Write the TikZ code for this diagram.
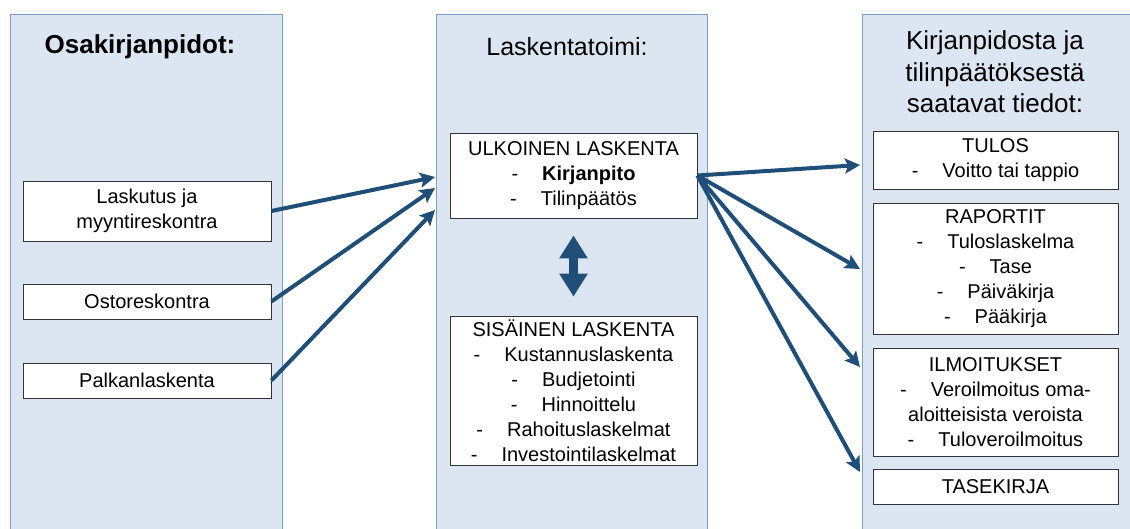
\documentclass[tikz,border=0pt]{standalone}
\usepackage{fontspec}
\setmainfont{Liberation Sans}
\usepackage{xcolor}
\usepackage{tikz}
\usetikzlibrary{arrows.meta}
\definecolor{panelfill}{HTML}{DCE6F2}
\definecolor{panelline}{HTML}{7F9DC9}
\definecolor{arrowblue}{HTML}{1F4E79}
\newcommand{\kohta}[1]{-\hspace{24pt}#1}
\tikzset{
  panel/.style   = { draw=panelline, fill=panelfill, line width=1pt, inner sep=0pt, minimum width=#1, minimum height=530pt },
  title/.style   = { align=center, font=\fontsize{25}{31.5}\selectfont },
  box/.style     = { draw=black!80, fill=white, line width=0.8pt, inner sep=0pt, align=center, font=\fontsize{20}{25}\selectfont },
  flow/.style    = { line width=4pt, arrowblue, -{Stealth[length=15pt,width=15pt,inset=3pt]} },
  updown/.style  = { line width=9pt, arrowblue, {Triangle[length=23pt,width=27pt]}-{Triangle[length=23pt,width=27pt]} }
}

\begin{document}
\begin{tikzpicture}[x=1pt,y=-1pt]
\useasboundingbox (0,0) rectangle (1130,528);
\node[panel=272pt] (osapanel) at (146,279) {};
\node[panel=271pt] (laskpanel) at (571.5,279) {};
\node[panel=280pt] (tietopanel) at (1002,279) {};
\node[title, font=\fontsize{26}{31.5}\selectfont\bfseries] (osatitle) at (140,47) {Osakirjanpidot:};
\node[title] (lasktitle) at (567,47) {Laskentatoimi:};
\node[title, font=\fontsize{26}{31.5}\selectfont] (tietotitle) at (995,72) {Kirjanpidosta ja\\tilinpäätöksestä\\saatavat tiedot:};
\node[box, minimum width=248pt, minimum height=60pt] (laskutus) at (147,211) {Laskutus ja\\myyntireskontra};
\node[box, minimum width=248pt, minimum height=35pt] (ostot) at (147,301.5) {Ostoreskontra};
\node[box, minimum width=248pt, minimum height=35pt] (palkat) at (147,380.5) {Palkanlaskenta};
\node[box, minimum width=247pt, minimum height=85pt] (ulkoinen) at (573.5,175.5) {ULKOINEN LASKENTA\\\kohta{\textbf{Kirjanpito}}\\\kohta{Tilinpäätös}};
\node[box, minimum width=247pt, minimum height=149pt] (sisainen) at (573.5,390.5) {SISÄINEN LASKENTA\\\kohta{Kustannuslaskenta}\\\kohta{Budjetointi}\\\kohta{Hinnoittelu}\\\kohta{Rahoituslaskelmat}\\\kohta{Investointilaskelmat}};
\node[box, minimum width=245pt, minimum height=58pt] (tulos) at (995.5,160) {TULOS\\\kohta{Voitto tai tappio}};
\node[box, minimum width=245pt, minimum height=131pt] (raportit) at (995.5,268.5) {RAPORTIT\\\kohta{Tuloslaskelma}\\\kohta{Tase}\\\kohta{Päiväkirja}\\\kohta{Pääkirja}};
\node[box, minimum width=245pt, minimum height=108pt] (ilmoitukset) at (995.5,402) {ILMOITUKSET\\\kohta{Veroilmoitus oma-}\\aloitteisista veroista\\\kohta{Tuloveroilmoitus}};
\node[box, minimum width=245pt, minimum height=35pt] (tasekirja) at (995.5,486.5) {TASEKIRJA};
\coordinate (sisaan1) at (435,177);
\coordinate (sisaan2) at (435,188);
\coordinate (sisaan3) at (435,210);
\coordinate (ulos1) at (860,165);
\coordinate (ulos2) at (860,269);
\coordinate (ulos3) at (860,367);
\coordinate (ulos4) at (860,472);
\draw[flow] (laskutus.east) -- (sisaan1);
\draw[flow] (ostot.east) -- (sisaan2);
\draw[flow] (palkat.east) -- (sisaan3);
\draw[flow] (ulkoinen.east) -- (ulos1);
\draw[flow] (ulkoinen.east) -- (ulos2);
\draw[flow] (ulkoinen.east) -- (ulos3);
\draw[flow] (ulkoinen.east) -- (ulos4);
\draw[updown, shorten <=17pt, shorten >=19pt] (ulkoinen.south) -- (sisainen.north);
\end{tikzpicture}
\end{document}
